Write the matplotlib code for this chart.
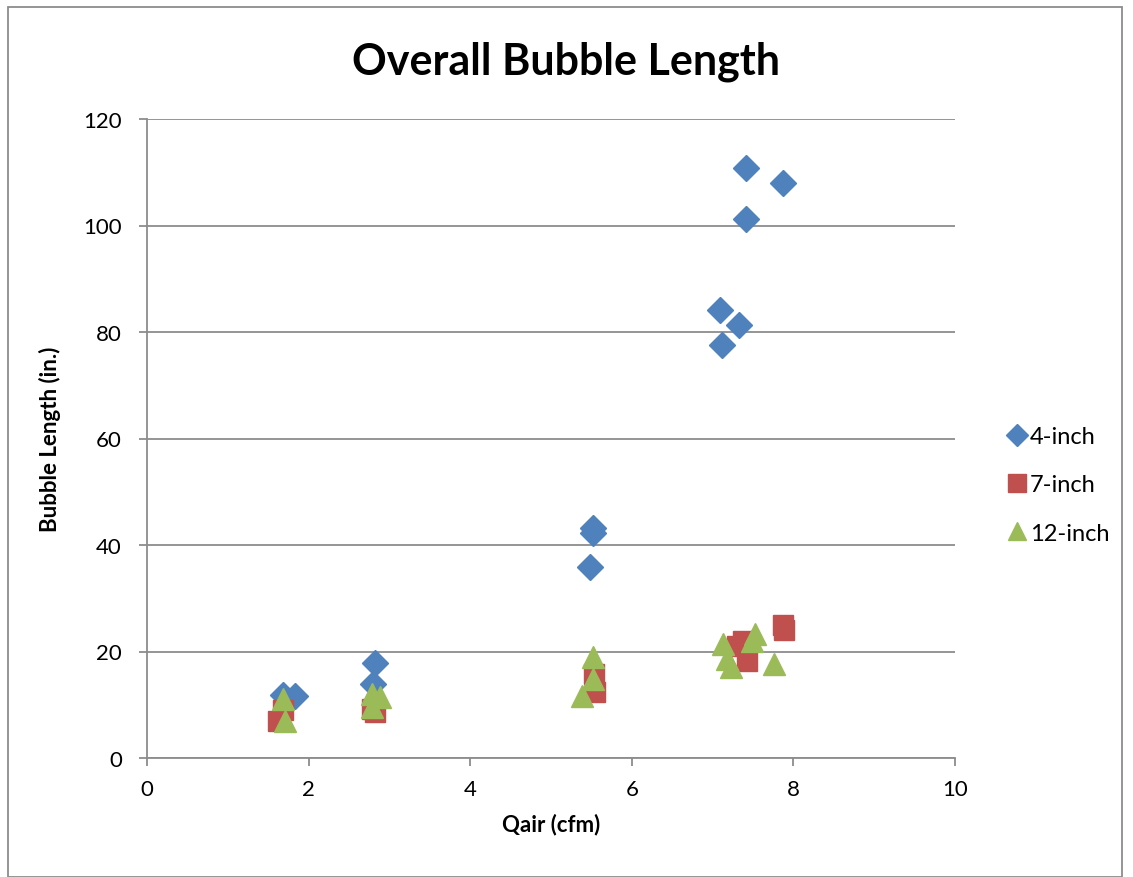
import matplotlib
matplotlib.use("Agg")
from matplotlib import pyplot as plt
from matplotlib.patches import Rectangle

plt.rcParams['font.family'] = ['Lato', 'DejaVu Sans']

# 4-inch
x4 = [1.68, 1.83, 2.82, 2.80, 5.52, 5.52, 5.48, 7.09, 7.33, 7.12, 7.41, 7.87, 7.41]
y4 = [11.8, 11.6, 17.8, 13.9, 43.2, 42.3, 35.9, 84.1, 81.3, 77.6, 110.8, 108.0, 101.2]

# 7-inch
x7 = [1.62, 1.68, 2.79, 2.82, 5.53, 5.54, 7.30, 7.38, 7.42, 7.87, 7.88]
y7 = [7.0, 9.0, 9.2, 8.6, 15.8, 12.4, 21.0, 22.0, 18.2, 25.0, 24.0]

# 12-inch
x12 = [1.68, 1.71, 2.78, 2.88, 2.78, 5.52, 5.52, 5.38, 7.13, 7.18, 7.23, 7.52, 7.49, 7.76]
y12 = [11.1, 7.0, 12.0, 11.5, 9.6, 19.0, 14.8, 11.7, 21.4, 18.6, 17.1, 23.3, 22.0, 17.7]

fig = plt.figure(figsize=(11.33, 8.78), dpi=100)
ax = fig.add_axes([147/1133, 1 - 759/878, (955-147)/1133, (759-120)/878])

ax.plot(x4, y4, linestyle='none', marker='D', markersize=13, color='#4F81BD', label='4-inch')
ax.plot(x7, y7, linestyle='none', marker='s', markersize=15, color='#C0504D', label='7-inch')
ax.plot(x12, y12, linestyle='none', marker='^', markersize=16, color='#9BBB59', label='12-inch')

ax.set_xlim(0, 10)
ax.set_ylim(0, 120)
ax.set_xticks(range(0, 11, 2))
ax.set_yticks(range(0, 121, 20))
ax.yaxis.grid(True, color='#8C8C8C', linewidth=1.3)
ax.set_axisbelow(True)
for s in ['top', 'right']:
    ax.spines[s].set_visible(False)
for s in ['left', 'bottom']:
    ax.spines[s].set_color('#8C8C8C')
    ax.spines[s].set_linewidth(1.3)
ax.tick_params(axis='both', labelsize=16, color='#8C8C8C', length=6, width=1.3)
ax.tick_params(axis='y', pad=12)
ax.tick_params(axis='x', pad=9)

ax.set_xlabel('Qair (cfm)', fontsize=16, fontweight='bold', labelpad=10)
ax.set_ylabel('Bubble Length (in.)', fontsize=16, fontweight='bold', labelpad=16)
fig.text(0.5, 1 - 62/878, 'Overall Bubble Length', ha='center', va='center',
         fontsize=31, fontweight='bold')

fig.legend(*ax.get_legend_handles_labels(), loc='center left',
           bbox_to_anchor=(1005/1133, 1 - 486/878), frameon=False, fontsize=17,
           handletextpad=0.05, handlelength=1.0, labelspacing=1.15, markerscale=0.85,
           borderaxespad=0, borderpad=0)

fig.add_artist(Rectangle((8/1133, 0), (1122-8)/1133, 1 - 8/878, transform=fig.transFigure,
                         fill=False, edgecolor='#8C8C8C', linewidth=1.3))

fig.savefig('out.png', dpi=100)
